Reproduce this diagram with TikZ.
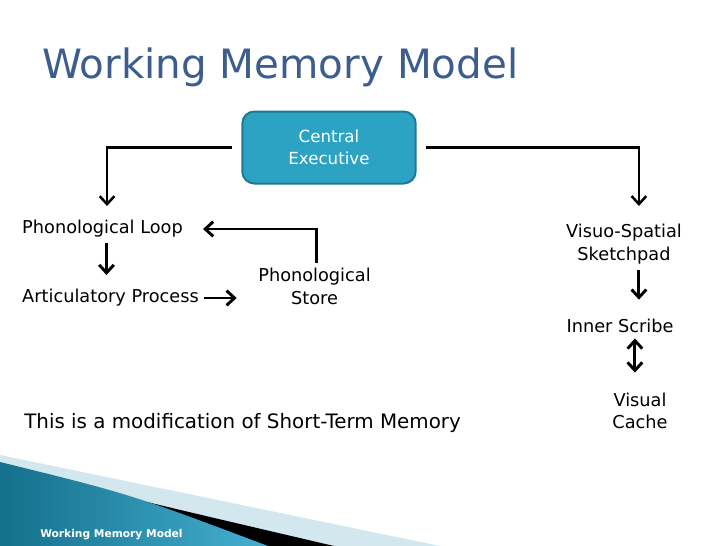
\documentclass[tikz,border=0pt]{standalone}
\usepackage{fontspec}
\setmainfont{DejaVu Sans}
\usepackage{tikz}
\usetikzlibrary{arrows.meta,positioning}

\definecolor{titleblue}{HTML}{3D5D8E}
\definecolor{cefill}{HTML}{2CA3C3}
\definecolor{ceedge}{HTML}{1C7A94}
\definecolor{footdark}{HTML}{14708C}
\definecolor{footlight}{HTML}{45AFD0}
\definecolor{footpale}{HTML}{D3E7EE}

\begin{document}
\begin{tikzpicture}[x=0.75pt, y=-0.75pt,
                    >={Straight Barb[length=6pt,width=11pt]},
                    box/.style={font=\fontsize{13.3}{17}\selectfont, inner sep=4pt, align=center},
                    exec/.style={draw=ceedge, fill=cefill, line width=1.5pt, rounded corners=9pt,
                                 minimum width=130pt, minimum height=54pt, text=white, align=center,
                                 font=\fontsize{12.5}{16.5}\selectfont},
                    conn/.style={line width=2.2pt}]
   \useasboundingbox[fill=white] (0,0) rectangle (728,546);

   % footer swoosh
   \fill[footpale] (0,455) -- (440,546) -- (0,546) -- cycle;
   \fill[black] (35,474) .. controls (150,503) .. (334,546) -- (0,546) -- cycle;
   \shade[left color=footdark, right color=footlight] (0,462) .. controls (130,494) .. (268,546) -- (0,546) -- cycle;
   \node[font=\bfseries\fontsize{8}{10}\selectfont, text=white, anchor=west, inner sep=0] (foot) at (40,535) {Working Memory Model};

   \node[font=\fontsize{30.3}{36}\selectfont, text=titleblue, anchor=west, inner sep=0] (title) at (42,67) {Working Memory Model};

   \node[exec] (ce) at (329,147.5) {Central\\Executive};
   \node[box] (loop) at (102.5,229) {Phonological Loop};
   \node[box] (artic) at (110.5,298) {Articulatory Process};
   \node[box] (store) at (314.5,286.5) {Phonological\\Store};
   \node[box] (vs) at (624,244) {Visuo-Spatial\\Sketchpad};
   \node[box] (scribe) at (620,326) {Inner Scribe};
   \node[box] (cache) at (640,411) {Visual\\Cache};
   \node[font=\fontsize{14.9}{18}\selectfont, anchor=west, inner sep=0] (note) at (24,423) {This is a modification of Short-Term Memory};

   % Define connectors
   \draw[conn,->, line width=1.9pt, shorten <=7pt, shorten >=6.6pt] (ce.west) -| ([xshift=3.4pt]loop.north);
   \draw[conn,->, line width=1.9pt, shorten <=7pt, shorten >=9.4pt] (ce.east) -| ([xshift=11.2pt]vs.north);
   \draw[conn,->, shorten >=6.6pt] ([xshift=3pt]loop.south) -- ([xshift=3pt]loop.south |- artic.north);
   \draw[conn,->, shorten >=12pt] (artic.east) -- (artic.east -| store.west);
   \draw[conn,->, shorten >=11pt] ([xshift=1.5pt]store.north) |- (loop.east);
   \draw[conn,->, shorten >=10.4pt] ([xshift=11.2pt]vs.south) -- ([xshift=11.2pt]vs.south |- scribe.north);
   \draw[conn,<->, shorten >=11pt] ([xshift=11.2pt]scribe.south) -- ([xshift=11.2pt]scribe.south |- cache.north);

\end{tikzpicture}
\end{document}
